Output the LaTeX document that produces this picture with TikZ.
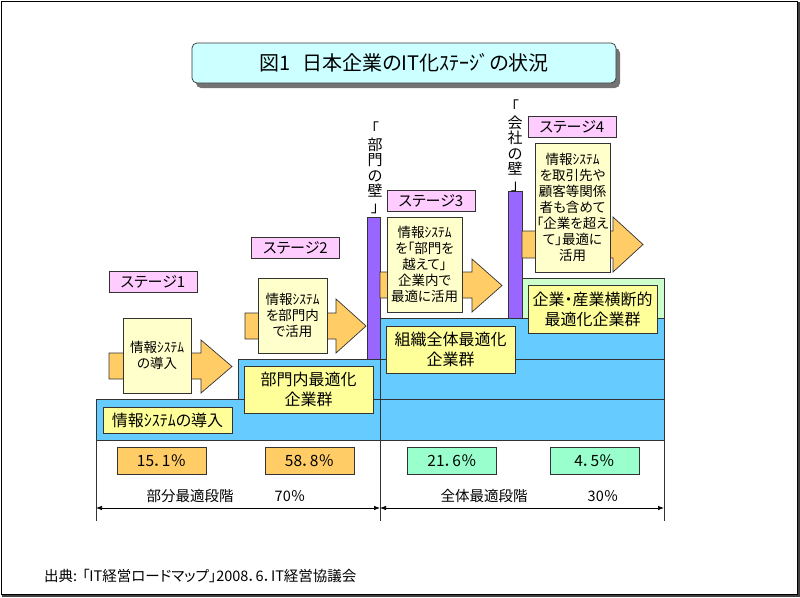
\documentclass[tikz,border=0pt]{standalone}
\usepackage{fontspec}
\setmainfont[RawFeature=+palt]{Noto Sans CJK JP}
\usetikzlibrary{arrows.meta}
\definecolor{layerblue}{HTML}{66CCFF}
\definecolor{layergreen}{HTML}{CCFFCC}
\definecolor{wallpurple}{HTML}{9966FF}
\definecolor{labelyellow}{HTML}{FFFF99}
\definecolor{calloutcream}{HTML}{FFFFCC}
\definecolor{arroworange}{HTML}{FFCC66}
\definecolor{stagepink}{HTML}{FFCCFF}
\definecolor{titlecyan}{HTML}{CCFFFF}
\definecolor{pctmint}{HTML}{99FFCC}
\definecolor{edge}{HTML}{333333}
\newcommand\myfs[2]{\fontsize{#1}{#2}\selectfont}
\begin{document}
\begin{tikzpicture}[x=1pt,y=-1pt,
  outline/.style={draw=edge, line width=0.7pt},
  layer/.style={outline, fill=layerblue},
  wall/.style={outline, fill=wallpurple},
  flow/.style={outline, fill=arroworange, line join=miter},
  basebox/.style={outline, inner sep=0pt, outer sep=0pt, align=center},
  callout/.style={basebox, fill=calloutcream, font=\myfs{13.5}{16}},
  stagelabel/.style={basebox, fill=stagepink, minimum width=88pt, minimum height=21pt, font=\myfs{15}{16}},
  layerlabel/.style={basebox, fill=labelyellow, minimum width=129pt, font=\myfs{16}{20}},
  pctbox/.style={basebox, minimum width=89pt, minimum height=27pt, font=\myfs{15.5}{16}},
  walltext/.style={inner sep=0pt, align=center, font=\myfs{15}{15.5}},
  plain/.style={inner sep=0pt, font=\myfs{14.5}{16}},
  span/.style={draw=black, line width=0.7pt, {Latex[length=6pt,width=4.5pt]}-{Latex[length=6pt,width=4.5pt]}}
]
\useasboundingbox (0,0) rectangle (800,597);

% outer frame
\draw[line width=0.8pt, draw=black] (1,1) rectangle (797,594);
\draw[line width=2pt, draw=black!75] (798.5,2) -- (798.5,595.5) -- (2,595.5);

% title
\fill[black!55, rounded corners=5pt] (196,48) rectangle (620,88);
\node[basebox, fill=titlecyan, rounded corners=5pt, minimum width=424pt, minimum height=40pt,
  font=\myfs{20}{22}] (title) at (404,63) {図1\hspace{0.6em}日本企業のIT化ｽﾃｰｼﾞの状況};

% layers
\draw[layer] (96,399) rectangle (664,440);
\draw[layer] (238,359) rectangle (664,399);
\draw[layer] (380,318) rectangle (664,359);
\draw[outline, fill=layergreen] (522,278) rectangle (664,318);

% walls
\draw[wall] (367,217) rectangle (380,359);
\draw[wall] (508,191) rectangle (522,318);

% vertical dividers
\draw[outline] (96,399) -- (96,521);
\draw[outline] (380,318) -- (380,521);
\draw[outline] (664,278) -- (664,521);

% flow arrows
\draw[flow] (109,353) -- (201,353) -- (201,340) -- (232,366.5) -- (201,393) -- (201,379) -- (109,379) -- cycle;
\draw[flow] (245,313) -- (336,313) -- (336,299) -- (366,326) -- (336,353) -- (336,339) -- (245,339) -- cycle;
\draw[flow] (380,272) -- (472,272) -- (472,259) -- (502,285.5) -- (472,312) -- (472,298) -- (380,298) -- cycle;
\draw[flow] (522,231) -- (613,231) -- (613,217) -- (643,244.5) -- (613,272) -- (613,258) -- (522,258) -- cycle;

% callouts
\node[callout, minimum width=68pt, minimum height=75pt] (c1) at (157,355.5) {情報ｼｽﾃﾑ\\の導入};
\node[callout, minimum width=69pt, minimum height=75pt] (c2) at (292.5,315.5) {情報ｼｽﾃﾑ\\を部門内\\で活用};
\node[callout, minimum width=75pt, minimum height=95pt] (c3) at (424.5,264.5) {情報ｼｽﾃﾑ\\を「部門を\\越えて」\\企業内で\\最適に活用};
\node[callout, minimum width=75pt, minimum height=129pt] (c4) at (572.5,207.5) {情報ｼｽﾃﾑ\\を取引先や\\顧客等関係\\者も含めて\\「企業を超え\\て」最適に\\活用};

% stage labels
\node[stagelabel] (s1) at (153,282) {ステージ1};
\node[stagelabel] (s2) at (295.5,247.5) {ステージ2};
\node[stagelabel] (s3) at (431,200.5) {ステージ3};
\node[stagelabel] (s4) at (572,126.5) {ステージ4};

% wall texts
\node[walltext] (w1) at (375,168) {「\\部\\門\\の\\壁\\」};
\node[walltext] (w2) at (515,146) {「\\会\\社\\の\\壁\\」};

% layer labels
\node[layerlabel, minimum height=26pt] (l1) at (167.5,420) {情報ｼｽﾃﾑの導入};
\node[layerlabel, minimum height=47pt] (l2) at (308.5,389.5) {部門内最適化\\企業群};
\node[layerlabel, minimum height=47pt] (l3) at (450.5,349.5) {組織全体最適化\\企業群};
\node[layerlabel, minimum height=48pt] (l4) at (592.5,309) {企業・産業横断的\\最適化企業群};

% percentages
\node[pctbox, fill=arroworange] (p1) at (161.5,460.5) {15．1％};
\node[pctbox, fill=arroworange] (p2) at (309.5,460.5) {58．8％};
\node[pctbox, fill=pctmint] (p3) at (452,460.5) {21．6％};
\node[pctbox, fill=pctmint] (p4) at (594.5,460.5) {4．5％};

% phase spans
\node[plain] (ph1) at (190,496) {部分最適段階};
\node[plain] (ph1v) at (290,496) {70％};
\node[plain] (ph2) at (484,496) {全体最適段階};
\node[plain] (ph2v) at (603,496) {30％};
\coordinate (aL) at (96,508);
\coordinate (aM) at (380,508);
\coordinate (aR) at (664,508);
\draw[span] (aL) -- (aM);
\draw[span] (aM) -- (aR);

% source
\node[plain, anchor=west] (src) at (44,576) {出典:\hspace{5pt}「IT経営ロードマップ」2008．6．IT経営協議会};
\end{tikzpicture}
\end{document}
